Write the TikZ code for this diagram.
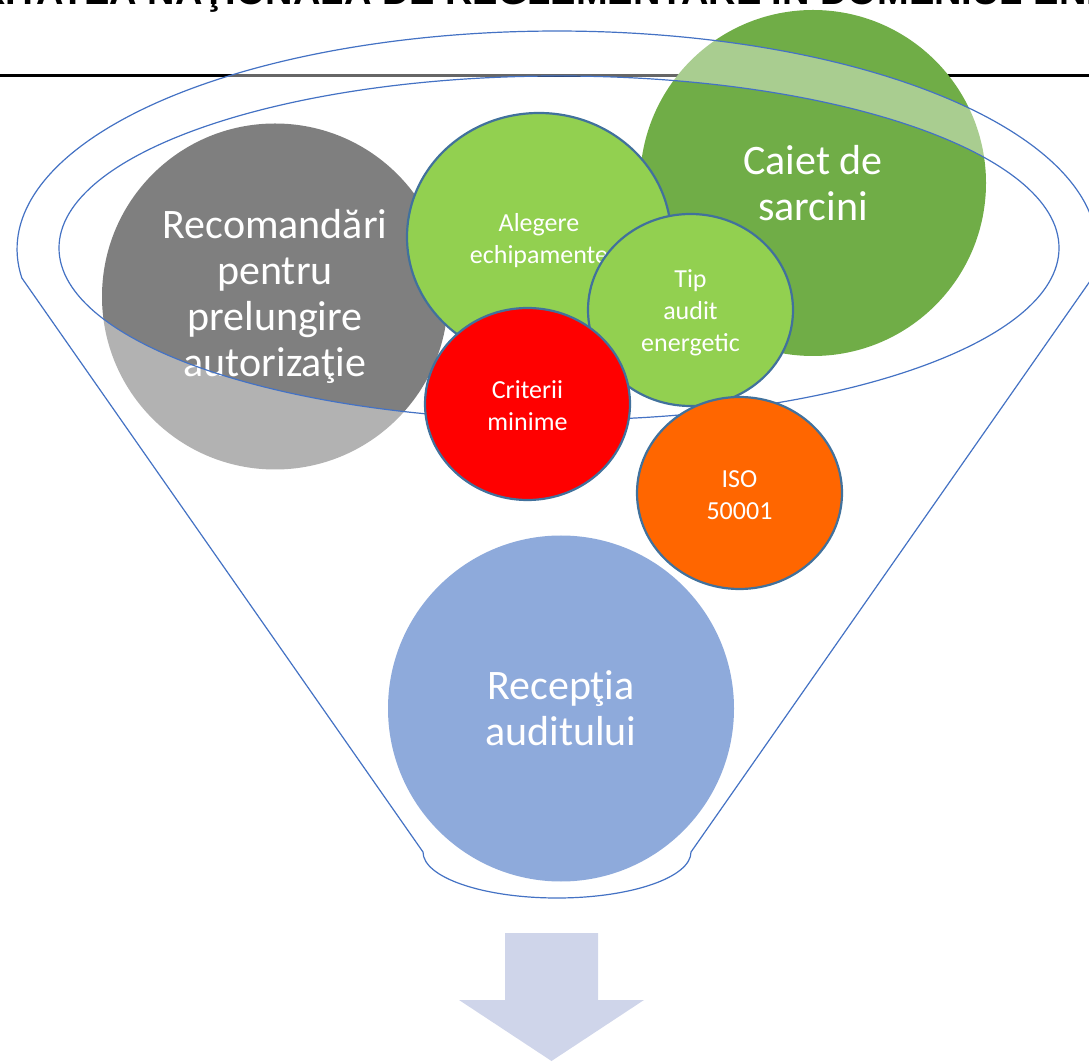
\documentclass[tikz,border=0pt]{standalone}
\usepackage{fontspec}
\setmainfont{Carlito}
\newfontfamily\titlefont{Liberation Sans}
\usetikzlibrary{shapes.geometric}
\definecolor{funnelblue}{HTML}{4472C4}
\definecolor{rimblue}{HTML}{41719C}
\definecolor{greyc}{HTML}{7F7F7F}
\definecolor{darkgreen}{HTML}{70AD47}
\definecolor{lightgreen}{HTML}{92D050}
\definecolor{redc}{HTML}{FF0000}
\definecolor{orangec}{HTML}{FF6600}
\definecolor{arrowc}{HTML}{CFD5EA}
\begin{document}
\begin{tikzpicture}[x=1pt,y=1pt,
  bigcirc/.style={circle, inner sep=0pt, minimum size=346pt, text=white, align=center, font=\fontsize{42}{46}\selectfont},
  smallcirc/.style={ellipse, inner sep=0pt, minimum width=205pt, minimum height=192pt, draw=rimblue, line width=2.2pt},
  smalltext/.style={inner sep=0pt, text=white, align=center, font=\fontsize{26}{32}\selectfont},
  funnelline/.style={draw=funnelblue, line width=1.2pt},
]
\clip (0,0) rectangle (1089,1061);
\node[anchor=base west, font=\titlefont\bfseries\fontsize{38}{40}\selectfont, inner sep=0pt] (title) at (-129,1056) {AUTORITATEA NAŢIONALĂ DE REGLEMENTARE ÎN DOMENIUL ENERGIEI};
\coordinate (hl) at (0,985.5);
\coordinate (hr) at (1089,985.5);
\draw[line width=3pt] (hl) -- (hr);
\node[bigcirc, fill=greyc] (rec) at (275,764.5) {Recomandări\\pentru\\prelungire\\autorizaţie};
\node[bigcirc, fill=darkgreen] (caiet) at (813,878) {Caiet de\\sarcini};
\node[bigcirc, fill=funnelblue] (recep) at (561,352.5) {Recepţia\\auditului};
% funnel overlay
\fill[white, opacity=0.4, even odd rule] (1092.2,783) arc[start angle=-7.64, end angle=187.64, x radius=540, y radius=218] -- (423,209) arc[start angle=180, end angle=360, x radius=134, y radius=46] -- cycle (559,813) ellipse [x radius=500, y radius=172];
\path[funnelline] (1092.2,783) arc[start angle=-7.64, end angle=187.64, x radius=540, y radius=218] -- (423,209) arc[start angle=180, end angle=360, x radius=134, y radius=46] -- cycle;
\path[funnelline] (559,813) ellipse [x radius=500, y radius=172];
% small circles
\node[smallcirc, fill=lightgreen, minimum width=264pt, minimum height=248pt] (aleg) at (539,824) {};
\node[smalltext] (alegt) at ([yshift=-4pt]aleg.center) {Alegere\\echipamente};
\node[smallcirc, fill=lightgreen] (tip) at (690.5,751) {};
\node[smalltext] (tipt) at ([yshift=-3pt]tip.center) {Tip\\audit\\energetic};
\node[smallcirc, fill=redc] (crit) at (527.5,657) {};
\node[smalltext] (critt) at ([yshift=-1.5pt]crit.center) {Criterii\\minime};
\node[smallcirc, fill=orangec] (iso) at (739.5,568) {};
\node[smalltext] (isot) at ([yshift=-2pt]iso.center) {ISO\\50001};
% arrow
\fill[arrowc] (505,128) -- (598,128) -- (598,61) -- (644,61) -- (551.5,0) -- (459,61) -- (505,61) -- cycle;
\end{tikzpicture}
\end{document}
